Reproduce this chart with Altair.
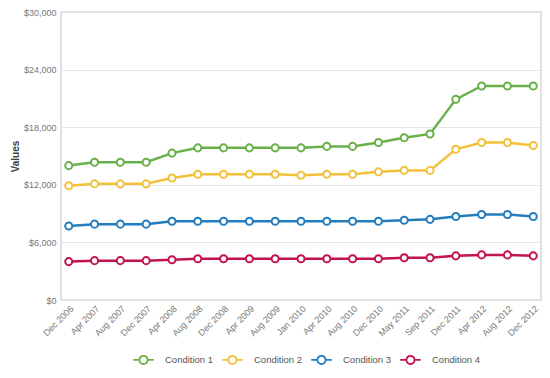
import altair as alt
import pandas as pd

months = ["Dec 2006", "Apr 2007", "Aug 2007", "Dec 2007", "Apr 2008", "Aug 2008",
          "Dec 2008", "Apr 2009", "Aug 2009", "Jan 2010", "Apr 2010", "Aug 2010",
          "Dec 2010", "May 2011", "Sep 2011", "Dec 2011", "Apr 2012", "Aug 2012",
          "Dec 2012"]
series_names = ["Condition 1", "Condition 2", "Condition 3", "Condition 4"]
cond1 = [14000, 14350, 14350, 14350, 15300, 15850, 15850, 15850, 15850, 15850,
         16000, 16000, 16400, 16900, 17300, 20900, 22300, 22300, 22300]
cond2 = [11900, 12100, 12100, 12100, 12700, 13100, 13100, 13100, 13100, 13000,
         13100, 13100, 13350, 13500, 13500, 15700, 16400, 16400, 16100]
cond3 = [7700, 7900, 7900, 7900, 8200, 8200, 8200, 8200, 8200, 8200,
         8200, 8200, 8200, 8300, 8400, 8700, 8900, 8900, 8700]
cond4 = [4000, 4100, 4100, 4100, 4200, 4300, 4300, 4300, 4300, 4300,
         4300, 4300, 4300, 4400, 4400, 4600, 4700, 4700, 4600]
colors = ["#69b04a", "#f2c13a", "#237cbc", "#c2134c"]
y_ticks = [0, 6000, 12000, 18000, 24000, 30000]

rows = []
for name, vals in zip(series_names, [cond1, cond2, cond3, cond4]):
    for m, v in zip(months, vals):
        rows.append({"Month": m, "Series": name, "Value": v})
df = pd.DataFrame(rows)

FONT = "Liberation Sans"
legend_shape = ("M-1,0L-0.4,0M0.4,0L1,0M-0.4,0A0.4,0.4 0 1,1 0.4,0"
                "A0.4,0.4 0 1,1 -0.4,0Z")

x_enc = alt.X("Month:O", sort=months,
              scale=alt.Scale(type="point", padding=0.3),
              axis=alt.Axis(title=None, labelAngle=-45, labelAlign="right",
                            labelBaseline="top", labelFontSize=9,
                            labelColor="#777777", ticks=False, domain=False,
                            grid=False, labelPadding=4))
y_enc = alt.Y("Value:Q", scale=alt.Scale(domain=[0, 30000], nice=False),
              axis=alt.Axis(title="Values", values=y_ticks, format="$,.0f",
                            labelFontSize=9, labelColor="#777777", ticks=False,
                            domain=False, gridColor="#e6e6e6", labelPadding=5,
                            titleFontSize=10, titleColor="#444444",
                            titleFontWeight="bold", titleX=-46,
                            titleBaseline="middle"))
color_scale = alt.Scale(domain=series_names, range=colors)

lines = alt.Chart(df).mark_line(strokeWidth=2.5).encode(
    x=x_enc, y=y_enc,
    color=alt.Color("Series:N", scale=color_scale, sort=series_names,
                    legend=alt.Legend(title=None, orient="none", direction="horizontal",
                                      columns=4, legendX=71, legendY=336,
                                      symbolType=legend_shape, symbolSize=420,
                                      symbolStrokeWidth=1.8, symbolFillColor="white",
                                      labelFontSize=9.5, labelColor="#555555",
                                      labelFont=FONT, columnPadding=4,
                                      labelOffset=10)),
)
points = alt.Chart(df).mark_point(filled=False, fill="white", fillOpacity=1,
                                  size=50, strokeWidth=2, opacity=1).encode(
    x=x_enc, y=y_enc,
    color=alt.Color("Series:N", scale=color_scale, sort=series_names, legend=None),
)

chart = alt.layer(lines, points).properties(
    width=480, height=288,
    padding={"left": 53, "top": 4, "right": 1, "bottom": 66},
    autosize=alt.AutoSizeParams(type="none"),
).configure(font=FONT).configure_view(stroke="#d8d8d8", strokeWidth=1.5)

chart.save("out.html", embed_options={"renderer": "svg", "actions": False})
